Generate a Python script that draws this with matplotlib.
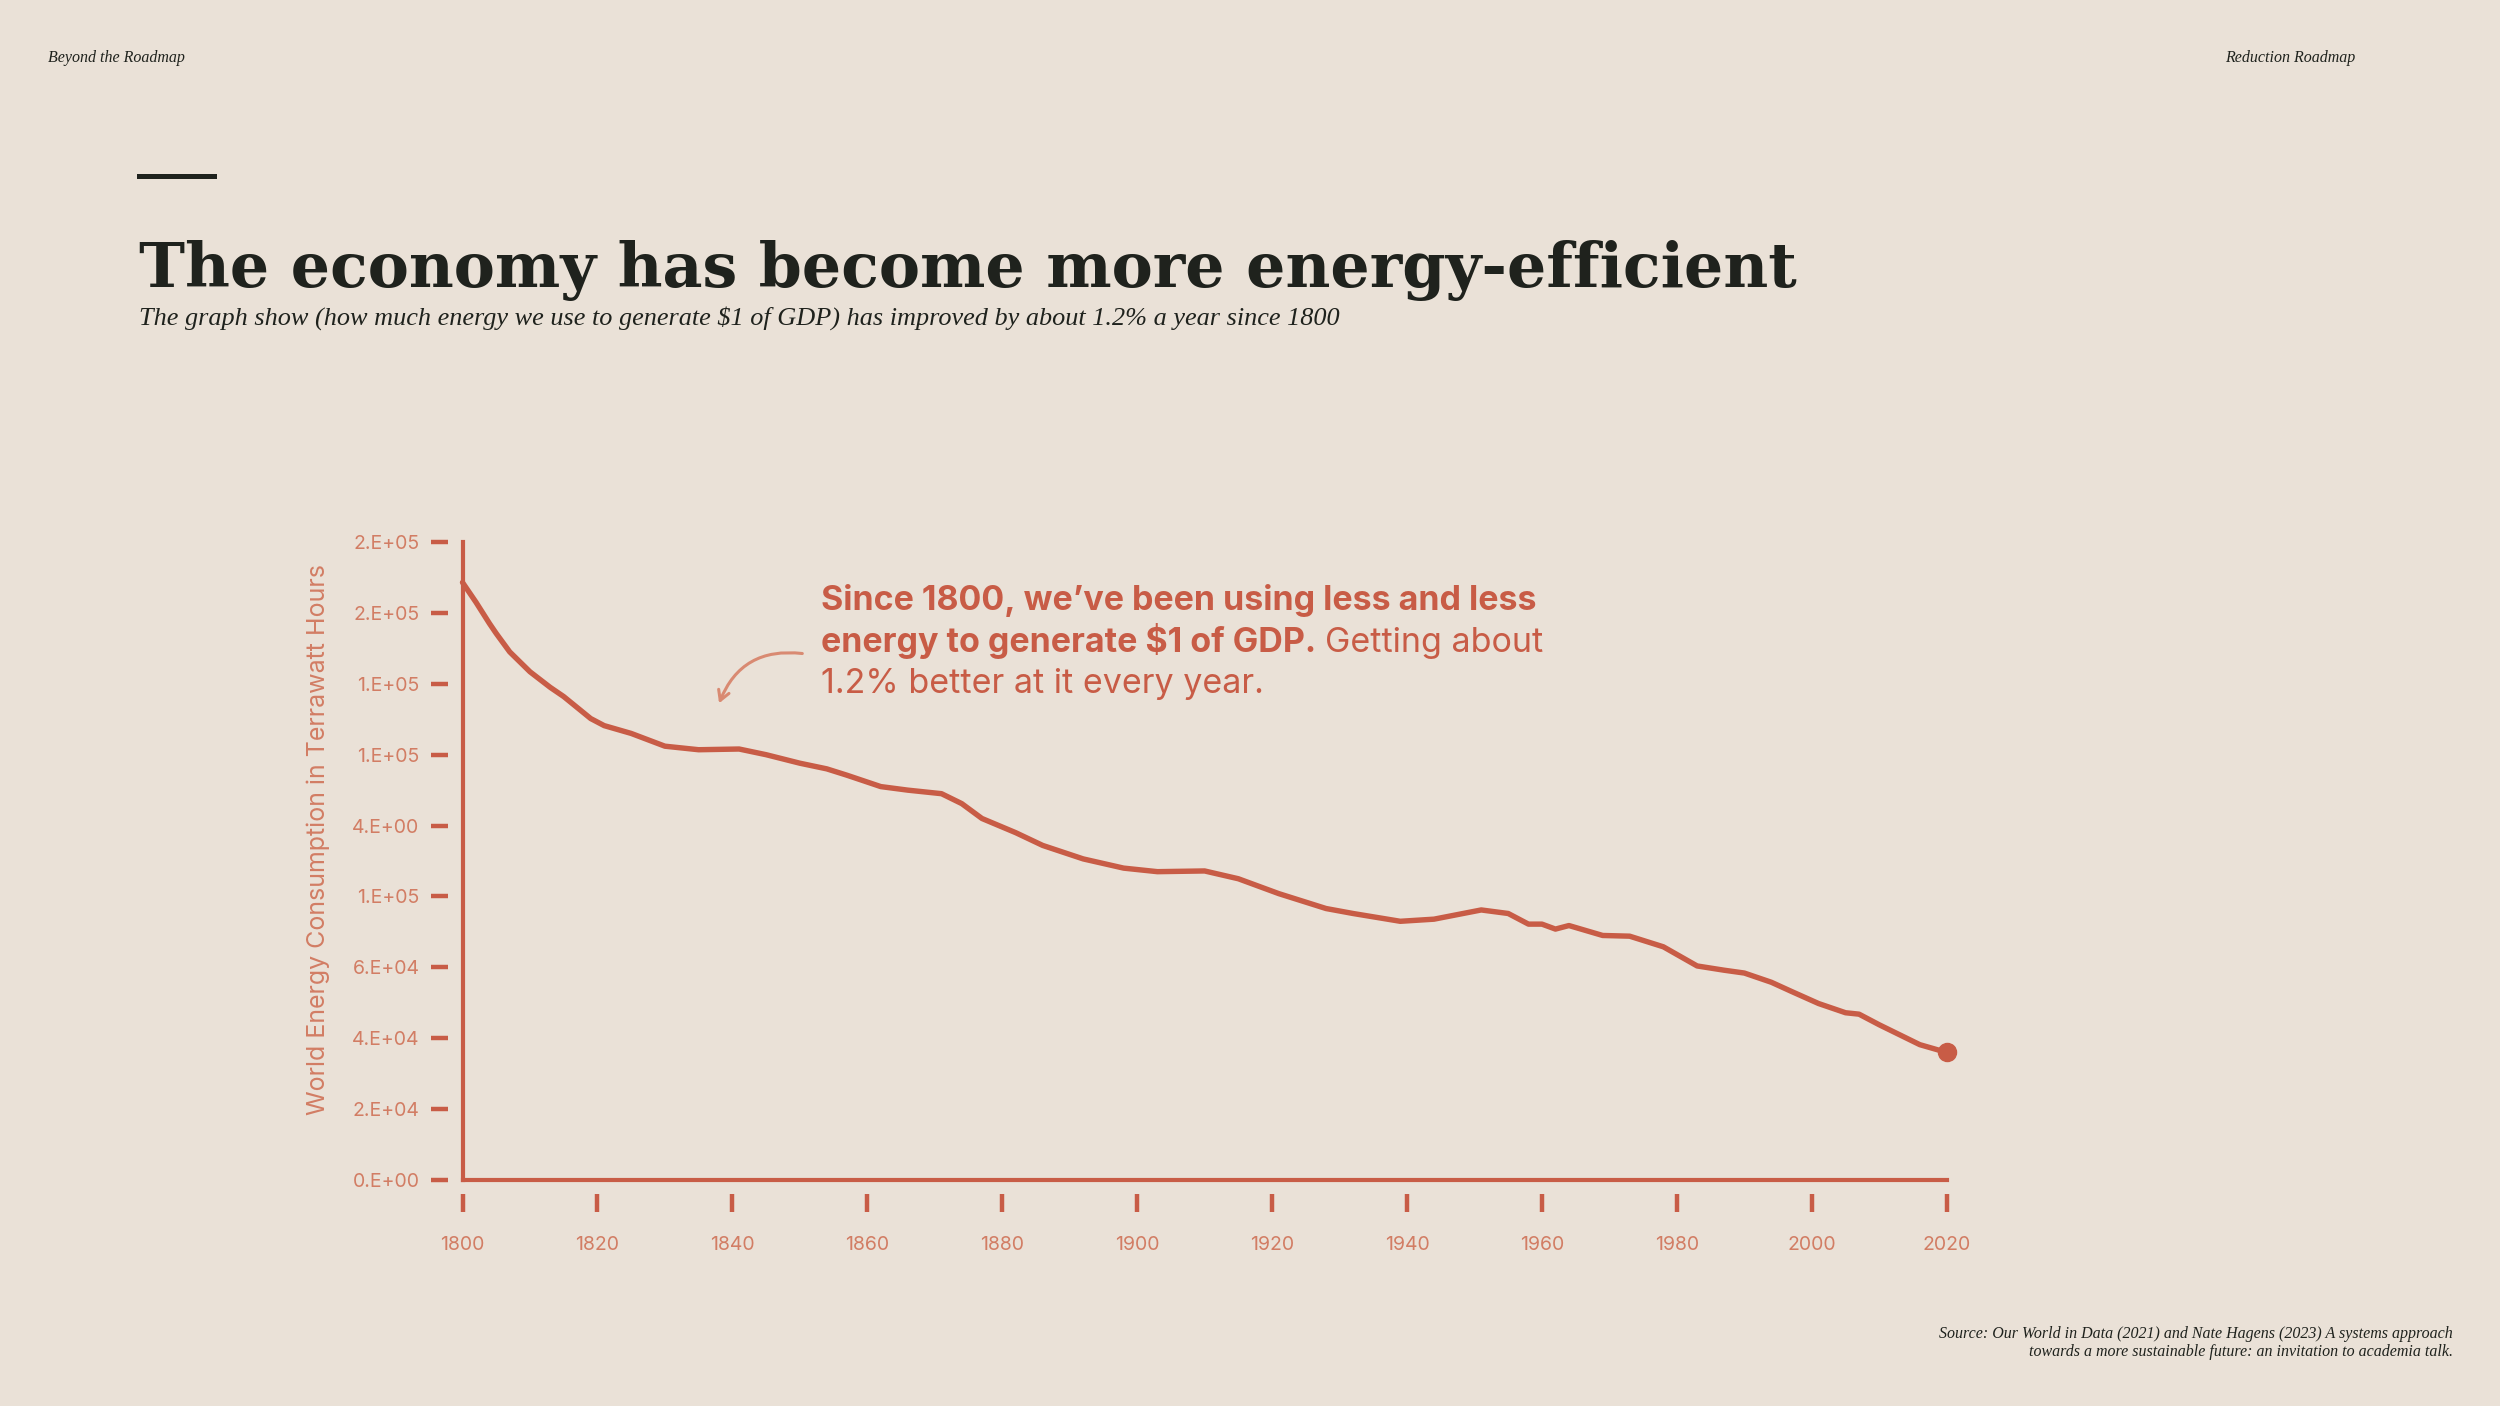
import matplotlib
matplotlib.use("Agg")
import matplotlib.pyplot as plt
from matplotlib.lines import Line2D
from matplotlib.patches import FancyArrowPatch

# energy needed per $1 of GDP
years = [1800, 1802, 1804, 1805, 1807, 1810, 1813, 1815, 1819, 1821, 1825, 1830,
         1835, 1841, 1845, 1850, 1854, 1857, 1862, 1866, 1871, 1874, 1877, 1882,
         1886, 1892, 1898, 1903, 1910, 1915, 1921, 1928, 1932, 1939, 1944, 1951,
         1955, 1958, 1960, 1962, 1964, 1969, 1973, 1976, 1978, 1983, 1987, 1990,
         1994, 1997, 2001, 2005, 2007, 2010, 2013, 2016, 2020]
energy = [168600, 163000, 157000, 154200, 149000, 143400, 139000, 136400, 130200,
          128200, 126000, 122400, 121400, 121600, 120000, 117600, 116000, 114200,
          111000, 110000, 109000, 106200, 102000, 98000, 94400, 90600, 88000,
          87000, 87200, 85000, 80800, 76600, 75200, 73000, 73600, 76200, 75200,
          72200, 72200, 70800, 71800, 69000, 68800, 67000, 65800, 60400, 59200,
          58400, 55800, 53200, 49800, 47200, 46800, 43800, 41000, 38200, 36000]

# the original chart's (odd) tick labels
ytick_vals = [0, 20000, 40000, 60000, 80000, 100000, 120000, 140000, 160000, 180000]
ytick_labels = ["0.E+00", "2.E+04", "4.E+04", "6.E+04", "1.E+05", "4.E+00",
                "1.E+05", "1.E+05", "2.E+05", "2.E+05"]
xtick_vals = list(range(1800, 2021, 20))

BG = "#EAE1D7"
RED = "#C85C46"
LIGHT = "#D27D64"
DARK = "#1F221D"

fig = plt.figure(figsize=(25, 14.06), dpi=100, facecolor=BG)
ax = fig.add_axes([0.185, 0.1607, 0.5937, 0.4538], facecolor=BG)

ax.plot(years, energy, color=RED, lw=3.9, solid_capstyle="round",
        solid_joinstyle="round", clip_on=False)
ax.plot(years[-1], energy[-1], "o", color=RED, ms=13, clip_on=False)

ax.set_xlim(1800, 2020)
ax.set_ylim(0, 180000)
ax.set_xticks(xtick_vals)
ax.set_xticklabels([str(x) for x in xtick_vals])
ax.set_yticks(ytick_vals)
ax.set_yticklabels(ytick_labels)

for s in ax.spines.values():
    s.set_visible(False)
ax.spines["left"].set_position(("outward", 10.5))
ax.spines["bottom"].set_position(("outward", 10))
ax.axvline(1800, color=RED, lw=3, clip_on=False)
ax.axhline(0, color=RED, lw=3, clip_on=False)

ax.tick_params(axis="y", colors=RED, length=12, width=3.2, pad=8.5,
               labelcolor=LIGHT, labelsize=14)
ax.tick_params(axis="x", colors=RED, length=13, width=3.2, pad=17,
               labelcolor=LIGHT, labelsize=14)
for lab in ax.get_xticklabels() + ax.get_yticklabels():
    lab.set_family("Inter")

ax.set_ylabel("World Energy Consumption in Terrawatt Hours", family="Inter",
              fontsize=18, color=LIGHT)
ax.yaxis.set_label_coords(-0.0892, 0.533)

# annotation
fs = 24.5
tkw = dict(transform=ax.transAxes, color=RED, family="Inter", fontsize=fs,
           va="baseline", ha="left")
ax.text(0.2416, 0.8937, "Since 1800, we\u2019ve been using less and less",
        fontweight="bold", **tkw)
t2 = ax.text(0.2416, 0.8278, "energy to generate $1 of GDP.", fontweight="bold", **tkw)
ax.annotate("Getting about", xy=(1, 0), xycoords=t2, xytext=(6, 0),
            textcoords="offset points", color=RED, family="Inter", fontsize=fs,
            va="bottom", ha="left")
ax.text(0.2416, 0.7628, "1.2% better at it every year.", **tkw)

arrow = FancyArrowPatch((0.2308, 0.8247), (0.1722, 0.7432), transform=ax.transAxes,
                        connectionstyle="arc3,rad=0.4", arrowstyle="->,head_length=7,head_width=4",
                        color="#D98A72", lw=2.2, clip_on=False)
ax.add_patch(arrow)

# page furniture
serif = "Liberation Serif"
fig.text(48 / 2500, 1 - 62 / 1406, "Beyond the Roadmap", family=serif, style="italic",
         fontsize=11.5, color=DARK, va="baseline")
fig.text(2355 / 2500, 1 - 62 / 1406, "Reduction Roadmap", family=serif, style="italic",
         fontsize=11.5, color=DARK, va="baseline", ha="right")
fig.add_artist(Line2D([139 / 2500, 214 / 2500], [1 - 176 / 1406, 1 - 176 / 1406],
                      color=DARK, lw=3.6))
fig.text(139 / 2500, 1 - 287 / 1406, "The economy has become more energy-efficient",
         family="DejaVu Serif", fontweight="bold", fontsize=44.5, color=DARK, va="baseline")
fig.text(139 / 2500, 1 - 325 / 1406,
         "The graph show (how much energy we use to generate $1 of GDP) has improved by about 1.2% a year since 1800",
         family=serif, style="italic", fontsize=18.9, color=DARK, va="baseline")
fig.text(2453 / 2500, 1 - 1356 / 1406,
         "Source: Our World in Data (2021) and Nate Hagens (2023) A systems approach\n"
         "towards a more sustainable future: an invitation to academia talk.",
         family=serif, style="italic", fontsize=11.5, color=DARK, va="baseline",
         ha="right", multialignment="right", linespacing=1.2)

fig.savefig("out.png", dpi=100, facecolor=BG)
